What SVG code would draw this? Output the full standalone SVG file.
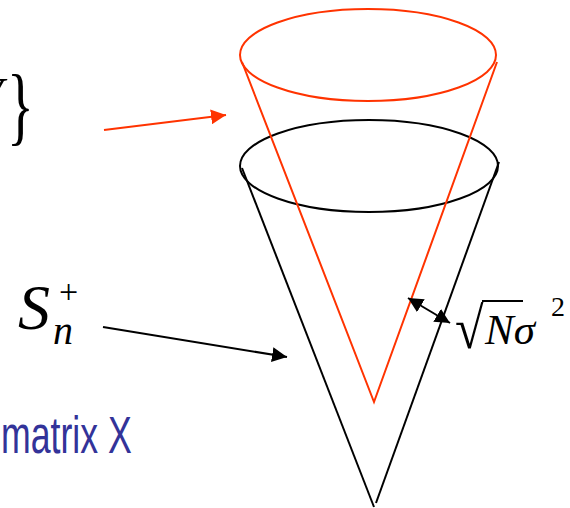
<svg xmlns="http://www.w3.org/2000/svg" width="570" height="508" viewBox="0 0 570 508">
<style>
.red{fill:none;stroke:#ff3300;stroke-width:2}
.blk{fill:none;stroke:#000;stroke-width:2}
.math{font-family:"Liberation Serif","Times New Roman",serif;fill:#000}
.it{font-style:italic}
.blue{font-family:"Liberation Sans",Arial,sans-serif;fill:#333399}
</style>
<defs>
<marker id="ah-red" viewBox="0 0 10 10" refX="10" refY="5" markerWidth="7.5" markerHeight="7.5" markerUnits="strokeWidth" orient="auto">
<path d="M0,0 L10,5 L0,10 z" fill="#ff3300"/>
</marker>
<marker id="ah-blk" viewBox="0 0 10 10" refX="10" refY="5" markerWidth="7.5" markerHeight="7.5" markerUnits="strokeWidth" orient="auto">
<path d="M0,0 L10,5 L0,10 z" fill="#000"/>
</marker>
<marker id="ah-blk-s" viewBox="0 0 10 10" refX="10" refY="5" markerWidth="7.5" markerHeight="7.5" markerUnits="strokeWidth" orient="auto-start-reverse">
<path d="M0,0 L10,5 L0,10 z" fill="#000"/>
</marker>
</defs>
<g id="black-cone">
<ellipse class="blk" cx="369" cy="166" rx="129" ry="46"/>
<line class="blk" x1="242" y1="168" x2="374" y2="507"/>
<line class="blk" x1="499" y1="162" x2="376" y2="503"/>
</g>
<g id="red-cone">
<ellipse class="red" cx="368" cy="55" rx="128" ry="46"/>
<polyline class="red" points="242,62 374,402 497,62"/>
</g>
<g id="label-V">
<text class="math it" x="-28" y="112" font-size="50">V</text>
<text class="math" x="0" y="0" font-size="56" transform="translate(7,134) scale(1,1.55)">}</text>
</g>
<g id="label-Sn">
<text class="math it" x="18" y="329" font-size="64">S</text>
<text class="math" x="59" y="303" font-size="34">+</text>
<text class="math it" x="53" y="344" font-size="40">n</text>
</g>
<g id="label-sqrt">
<text class="math" x="0" y="0" font-size="52" transform="translate(455,348) scale(1,1.12)">√</text>
<line x1="482" y1="301" x2="523" y2="301" stroke="#000" stroke-width="1.8"/>
<text class="math it" x="485" y="344" font-size="43">Nσ</text>
<text class="math" x="551" y="316" font-size="28">2</text>
</g>
<g id="label-matrix">
<text class="blue" x="0" y="0" font-size="51" transform="translate(1,453) scale(0.7,1)">matrix X</text>
</g>
<g id="connectors">
<line x1="104" y1="130" x2="226" y2="115" stroke="#ff3300" stroke-width="2" marker-end="url(#ah-red)"/>
<line x1="103" y1="327" x2="287" y2="357" stroke="#000" stroke-width="2" marker-end="url(#ah-blk)"/>
<line x1="408" y1="298" x2="450" y2="323" stroke="#000" stroke-width="2" marker-start="url(#ah-blk-s)" marker-end="url(#ah-blk-s)"/>
</g>
</svg>
